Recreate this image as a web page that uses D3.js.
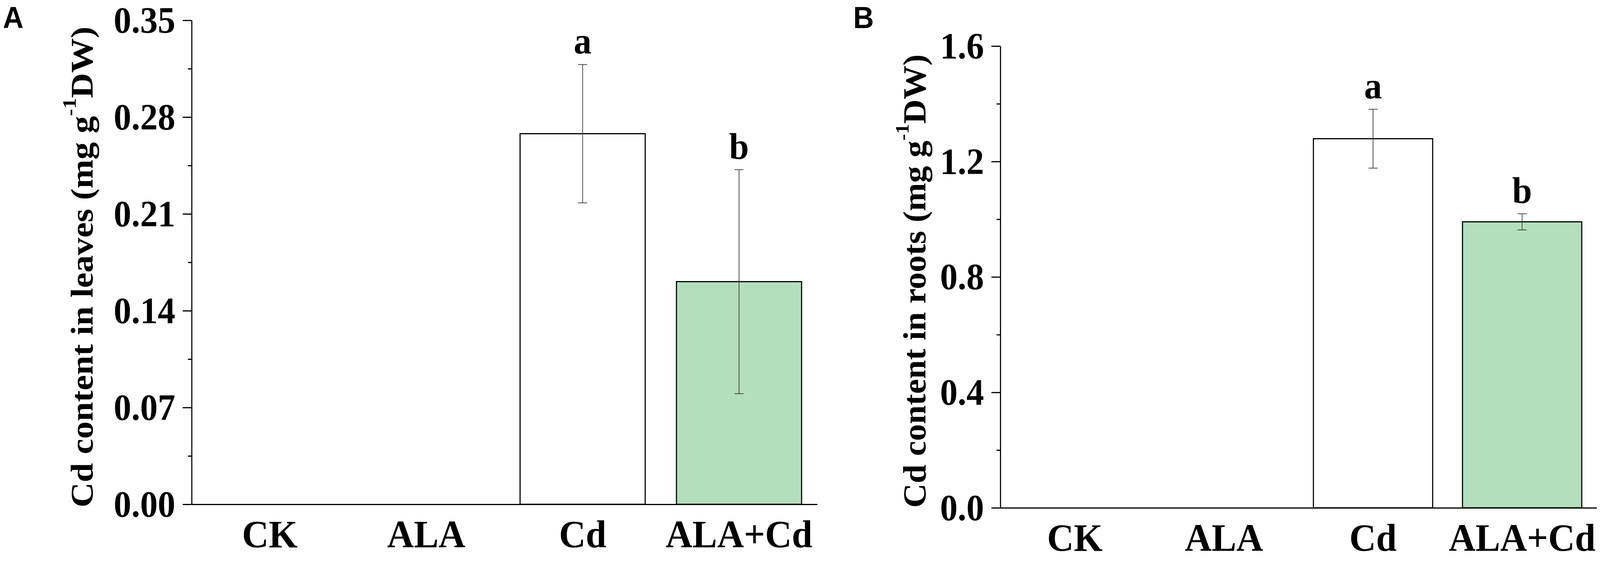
<!DOCTYPE html>
<html>
<head>
<meta charset="utf-8">
<script src="https://cdn.jsdelivr.net/npm/d3@7"></script>
<style>
  html, body { margin:0; padding:0; width:100%; height:100%; overflow:hidden; background:#fff; }
  #fig { width:100%; height:100%; }
  svg { display:block; }
</style>
</head>
<body>
<div id="fig"></div>
<script>
var categories = ["CK", "ALA", "Cd", "ALA+Cd"];
var leavesMean = [0, 0, 0.268, 0.161];
var leavesErr = [0, 0, 0.050, 0.081];
var rootsMean = [0, 0, 1.279, 0.991];
var rootsErr = [0, 0, 0.102, 0.028];
var letters = ["", "", "a", "b"];
var leavesTicks = [0, 0.07, 0.14, 0.21, 0.28, 0.35];
var rootsTicks = [0, 0.4, 0.8, 1.2, 1.6];
var barFill = ["#ffffff", "#ffffff", "#ffffff", "#b4dfbc"];

var W = 4317, H = 1468;
var serif = "'Liberation Serif', 'Times New Roman', serif";

// viewBox stretched to the viewport so the figure fills the photo
var svg = d3.select("#fig").append("svg")
  .attr("viewBox", "0 0 " + W + " " + H)
  .attr("preserveAspectRatio", "none")
  .attr("width", "100%").attr("height", "100%");

function barPanel(options={}) {
  var x0 = options.x0, x1 = options.x1,
    yTop = options.yTop, yBot = options.yBot,
    ticks = options.ticks,
    fmt = d3.format(options.format || ".2f");

  var g = svg.append("g");

  var x = d3.scaleBand().domain(categories).range([x0, x1])
    .paddingInner(0.2).paddingOuter(0.1);
  var y = d3.scaleLinear().domain([0, ticks[ticks.length-1]]).range([yBot, yTop]);

  var rows = categories.map(function(c, i) {
    return {cat: c, v: options.mean[i], e: options.err[i], letter: letters[i], fill: barFill[i]};
  });

  // bars
  g.selectAll("rect.bar").data(rows.filter(d => d.v > 0)).enter()
    .append("rect").attr("class", "bar")
    .attr("x", d => x(d.cat)).attr("width", x.bandwidth())
    .attr("y", d => y(d.v)).attr("height", d => y(0) - y(d.v))
    .style("fill", d => d.fill).style("stroke", "#000").style("stroke-width", 3);

  // error bars
  var eb = g.selectAll("g.err").data(rows.filter(d => d.e > 0)).enter()
    .append("g").attr("class", "err")
    .attr("transform", d => "translate(" + (x(d.cat) + x.bandwidth()/2) + ",0)")
    .style("stroke", "#444").style("stroke-width", 2);
  eb.append("line").attr("y1", d => y(d.v + d.e)).attr("y2", d => y(d.v - d.e));
  eb.append("line").attr("x1", -12).attr("x2", 12)
    .attr("y1", d => y(d.v + d.e)).attr("y2", d => y(d.v + d.e));
  eb.append("line").attr("x1", -12).attr("x2", 12)
    .attr("y1", d => y(d.v - d.e)).attr("y2", d => y(d.v - d.e));

  // significance letters
  g.selectAll("text.sig").data(rows.filter(d => d.letter)).enter()
    .append("text").attr("class", "sig")
    .attr("x", d => x(d.cat) + x.bandwidth()/2)
    .attr("y", d => y(d.v + d.e) - 28)
    .attr("text-anchor", "middle")
    .style("font-family", serif).style("font-weight", "bold").style("font-size", "96px")
    .text(d => d.letter);

  // y axis, minor ticks first
  var minor = d3.pairs(ticks).map(p => (p[0] + p[1]) / 2);
  g.append("g").attr("transform", "translate(" + x0 + ",0)")
    .call(d3.axisLeft(y).tickValues(minor).tickSize(10).tickFormat(""))
    .call(s => s.select(".domain").remove())
    .selectAll("line").style("stroke", "#000").style("stroke-width", 3);

  var ya = g.append("g").attr("transform", "translate(" + x0 + ",0)")
    .call(d3.axisLeft(y).tickValues(ticks).tickSize(24).tickSizeOuter(0).tickPadding(20).tickFormat(fmt));
  ya.selectAll("path, line").style("stroke", "#000").style("stroke-width", 3);
  ya.selectAll("text")
    .attr("dy", "0.33em")
    .style("font-family", serif).style("font-weight", "bold").style("font-size", "95px").style("fill", "#000");

  // x axis
  var xa = g.append("g").attr("transform", "translate(0," + yBot + ")")
    .call(d3.axisBottom(x).tickSize(0).tickSizeOuter(0));
  xa.select(".domain").style("stroke", "#000").style("stroke-width", 3);
  xa.selectAll("text")
    .attr("y", 110).attr("dy", 0)
    .style("font-family", serif).style("font-weight", "bold").style("font-size", "100px").style("fill", "#000");

  // y title with superscript
  var t = g.append("text")
    .attr("transform", "translate(" + options.titleX + "," + options.titleY + ") rotate(-90)")
    .attr("text-anchor", "middle")
    .attr("textLength", options.titleLen).attr("lengthAdjust", "spacingAndGlyphs")
    .style("font-family", serif).style("font-weight", "bold").style("font-size", options.titleSize + "px");
  t.append("tspan").text(options.title + " (mg g");
  t.append("tspan").attr("dy", -46).style("font-size", "52px").text("-1");
  t.append("tspan").attr("dy", 46).text("DW)");

  // panel letter
  svg.append("text").attr("x", options.tagX).attr("y", options.tagY)
    .style("font-family", "'Liberation Sans', Arial, sans-serif").style("font-weight", "bold")
    .style("font-size", "77px").text(options.tag);
}

barPanel({
  x0: 517, x1: 2205, yTop: 52, yBot: 1292,
  ticks: leavesTicks, format: ".2f",
  mean: leavesMean, err: leavesErr,
  title: "Cd content in leaves", titleX: 250, titleY: 684, titleLen: 1232, titleSize: 84,
  tag: "A", tagX: 8, tagY: 72
});

barPanel({
  x0: 2699, x1: 4308, yTop: 118, yBot: 1301,
  ticks: rootsTicks, format: ".1f",
  mean: rootsMean, err: rootsErr,
  title: "Cd content in roots", titleX: 2497, titleY: 720, titleLen: 1162, titleSize: 88,
  tag: "B", tagX: 2302, tagY: 72
});
</script>
</body>
</html>
